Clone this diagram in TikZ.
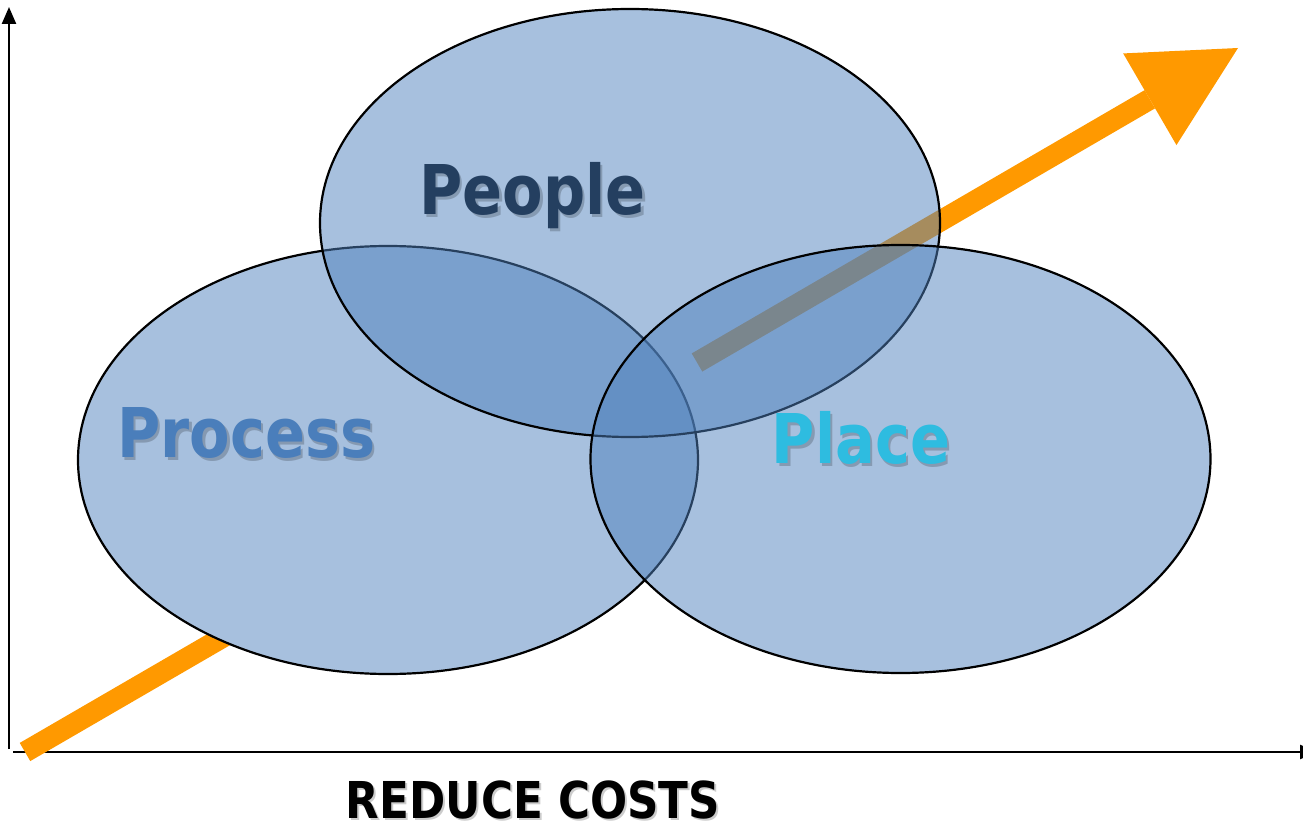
\documentclass[tikz,border=0pt]{standalone}
\usepackage{fontspec}
\usetikzlibrary{arrows.meta,shapes.geometric}
% Bold humanist sans, narrowed to a Tahoma-like width
\newfontfamily\labelfont[FakeStretch=0.86]{DejaVu Sans}
\definecolor{vennblue}{HTML}{4F81BD}
\definecolor{vennlight}{HTML}{A7C0DE}
\definecolor{arroworange}{HTML}{FF9900}
\definecolor{peoplecol}{HTML}{243F60}
\definecolor{processcol}{HTML}{4A7EBB}
\definecolor{placecol}{HTML}{2EBCE0}
\begin{document}
\begin{tikzpicture}[x=0.5pt,y=-0.5pt,
  axis/.style={line width=1.2pt, -{Triangle[width=7pt,length=8.5pt]}},
  growthshaft/.style={line width=10.5pt, arroworange},
  growth/.style={growthshaft,
    -{Triangle[width=53pt,length=51pt,line width=0pt]}},
  venn/.style={ellipse, draw=black, line width=1.1pt, minimum width=310pt,
    minimum height=214pt, inner sep=0pt, outer sep=0pt},
  word/.style={font=\labelfont\bfseries\fontsize{34.3pt}{40pt}\selectfont,
    anchor=base, inner sep=0pt},
  wordshadow/.style={word, text=black, opacity=0.2},
  caption/.style={font=\labelfont\bfseries\fontsize{25.4pt}{30pt}\selectfont,
    anchor=base, inner sep=0pt}
]
\useasboundingbox (0,0) rectangle (1303,829);
\clip (0,0) rectangle (1303,829);

% axes
\coordinate (yfoot) at (9,749);
\coordinate (ytop) at (9,7);
\coordinate (xfoot) at (13,752);
\coordinate (xend) at (1317,752);
\draw[axis] (yfoot) -- (ytop);
\draw[axis] (xfoot) -- (xend);

% rising arrow: lower run ends under Process, upper run resumes beyond it
\coordinate (tail) at (25,752);
\coordinate (hidden) at (400,534.4);
\coordinate (resume) at (697,362.5);
\coordinate (tip) at (1238,48);
\draw[growthshaft] (tail) -- (hidden);
\draw[growth] (resume) -- (tip);

% the three circles
\node[venn, fill=vennlight] (process) at (388,460) {};
\node[venn, fill=vennblue, fill opacity=0.5] (people) at (630,223) {};
\node[venn, fill=vennblue, fill opacity=0.5] (place) at (900.5,459) {};

% labels with soft shadows
\node[wordshadow] (people-shadow) at (535,218) {People};
\node[word, text=peoplecol] (people-label) at (532.5,215) {People};
\node[wordshadow] (process-shadow) at (249,460) {Process};
\node[word, text=processcol] (process-label) at (246.5,457) {Process};
\node[wordshadow] (place-shadow) at (863.5,466) {Place};
\node[word, text=placecol] (place-label) at (861,463) {Place};

\node[caption, text=black, opacity=0.2] (caption-shadow) at (535,820) {REDUCE COSTS};
\node[caption, text=black] (caption) at (533,818) {REDUCE COSTS};
\end{tikzpicture}
\end{document}
